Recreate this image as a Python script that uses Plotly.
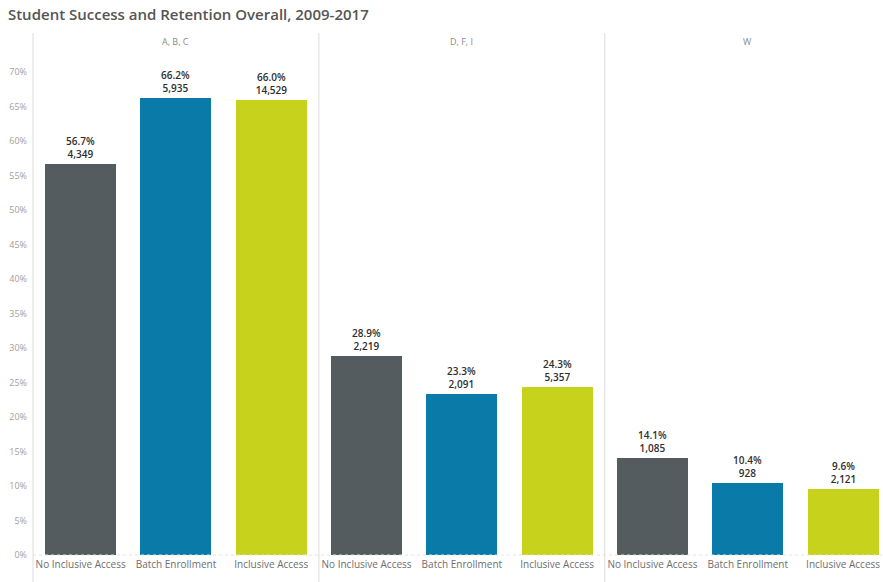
import plotly.graph_objects as go

# Outcome groups and access models
groups = ["A, B, C", "D, F, I", "W"]
models = ["No Inclusive Access", "Batch Enrollment", "Inclusive Access"]

# Share of students (%) and student counts, per group, in model order
pct = {
    "A, B, C": [56.7, 66.2, 66.0],
    "D, F, I": [28.9, 23.3, 24.3],
    "W": [14.1, 10.4, 9.6],
}
counts = {
    "A, B, C": [4349, 5935, 14529],
    "D, F, I": [2219, 2091, 5357],
    "W": [1085, 928, 2121],
}
model_colors = ["#545c5f", "#0a7aa8", "#c6d21c"]

y_ticks = list(range(0, 75, 5))

fig = go.Figure()

xs, ys, cols, texts, ticklabels = [], [], [], [], []
for gi, g in enumerate(groups):
    for mi, m in enumerate(models):
        xs.append(gi * 3 + mi)
        ys.append(pct[g][mi])
        cols.append(model_colors[mi])
        texts.append(f"{pct[g][mi]:.1f}%<br>{counts[g][mi]:,}")
        ticklabels.append(m)

fig.add_trace(go.Bar(
    x=xs, y=ys, width=0.745,
    marker=dict(color=cols, line=dict(width=0)),
    text=texts, textposition="outside",
    textfont=dict(family="Open Sans", size=10, color="#2e2e2e", weight=600),
    cliponaxis=False, showlegend=False, hoverinfo="skip",
))

# Group headers
for gi, g in enumerate(groups):
    fig.add_annotation(x=gi * 3 + 1, y=0.983, xref="x", yref="paper",
                       yanchor="middle", text=g, showarrow=False,
                       font=dict(family="Open Sans", size=9, color="#8a8a8a"))

# Panel dividers and left axis line, extending below the baseline
for xv in [2.5, 5.5]:
    fig.add_shape(type="line", x0=xv, x1=xv, y0=-0.05, y1=1,
                  xref="x", yref="paper",
                  line=dict(color="#dcdcdc", width=1))
fig.add_shape(type="line", x0=0, x1=0, y0=-0.05, y1=1,
              xref="paper", yref="paper",
              line=dict(color="#dcdcdc", width=1))
# Baseline
fig.add_shape(type="line", x0=0, x1=1, y0=0, y1=0,
              xref="paper", yref="y",
              line=dict(color="#e2e2e2", width=1, dash="dot"))

fig.update_layout(
    width=883, height=582,
    margin=dict(l=33, r=0, t=33, b=25),
    paper_bgcolor="white", plot_bgcolor="white",
    title=dict(text="Student Success and Retention Overall, 2009-2017",
               x=0.009, xanchor="left", y=0.975, yanchor="middle",
               font=dict(family="Open Sans", size=15, color="#555555",
                         weight=600)),
    bargap=0,
    xaxis=dict(
        range=[-0.5, 8.419], tickvals=xs, ticktext=ticklabels,
        showgrid=False, zeroline=False, showline=False, ticks="",
        tickfont=dict(family="Open Sans", size=10, color="#6e6e6e"),
        fixedrange=True,
    ),
    yaxis=dict(
        range=[-0.29, 75.65], tickvals=y_ticks,
        ticktext=[f"{v}%" for v in y_ticks],
        showgrid=False, zeroline=False, showline=False, ticks="",
        tickfont=dict(family="Open Sans", size=9, color="#a89c9c"),
        ticklabelstandoff=5,
    ),
)

fig.write_html("out.html")
